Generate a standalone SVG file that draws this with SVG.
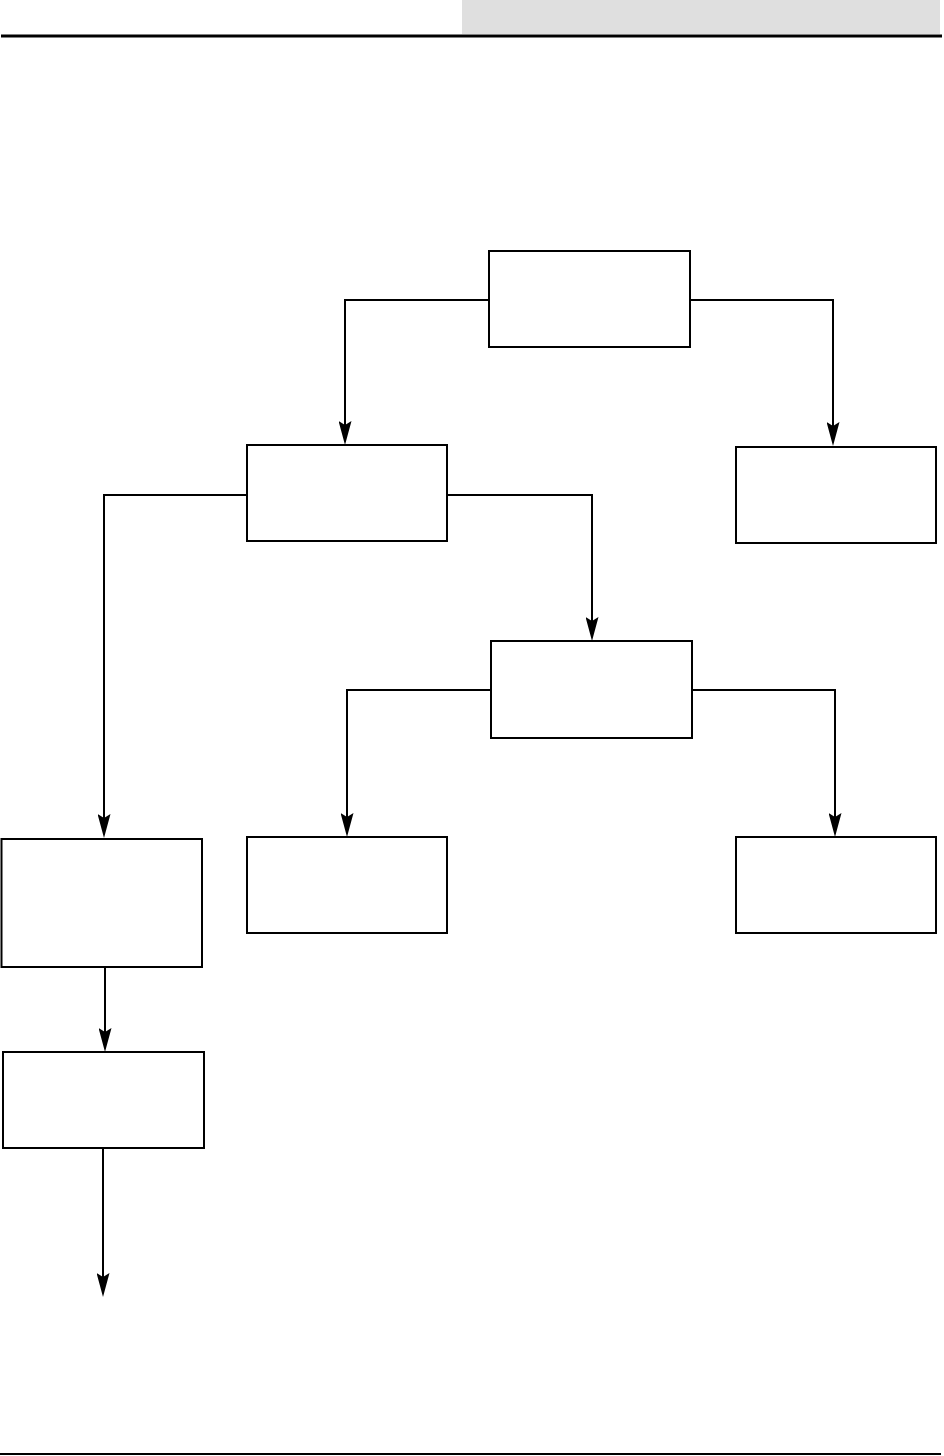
<svg xmlns="http://www.w3.org/2000/svg" width="944" height="1456" viewBox="0 0 944 1456">
<style>
.box{fill:#fff;stroke:#000;stroke-width:2}
.conn{fill:none;stroke:#000;stroke-width:2;marker-end:url(#arr)}
</style>
<defs>
<marker id="arr" markerUnits="userSpaceOnUse" viewBox="0 0 24 13" refX="20" refY="6.5" markerWidth="24" markerHeight="13" orient="auto">
<path d="M0,0 L24,6.5 L0,13 L4,6.5 Z" fill="#000"/>
</marker>
</defs>
<rect x="462" y="0" width="478" height="34" fill="#dfdfdf"/>
<line x1="1" y1="36" x2="942" y2="36" stroke="#000" stroke-width="3"/>
<line x1="0" y1="1454" x2="941" y2="1454" stroke="#000" stroke-width="2"/>
<g id="connectors">
<path class="conn" d="M489,300 H345 V441"/>
<path class="conn" d="M690,300 H833 V442"/>
<path class="conn" d="M247,495 H104 V834"/>
<path class="conn" d="M447,495 H592 V637"/>
<path class="conn" d="M491,690 H347 V833"/>
<path class="conn" d="M692,690 H835 V833"/>
<path class="conn" d="M105,967 V1048"/>
<path class="conn" d="M103,1148 V1293"/>
</g>
<g id="n1"><rect class="box" x="489" y="251" width="201" height="96"/></g>
<g id="n2"><rect class="box" x="247" y="445" width="200" height="96"/></g>
<g id="n3"><rect class="box" x="736" y="447" width="200" height="96"/></g>
<g id="n4"><rect class="box" x="491" y="641" width="201" height="97"/></g>
<g id="n5"><rect class="box" x="247" y="837" width="200" height="96"/></g>
<g id="n6"><rect class="box" x="736" y="837" width="200" height="96"/></g>
<g id="n7"><rect class="box" x="1.5" y="839" width="200.5" height="128"/></g>
<g id="n8"><rect class="box" x="3" y="1052" width="201" height="96"/></g>
</svg>
